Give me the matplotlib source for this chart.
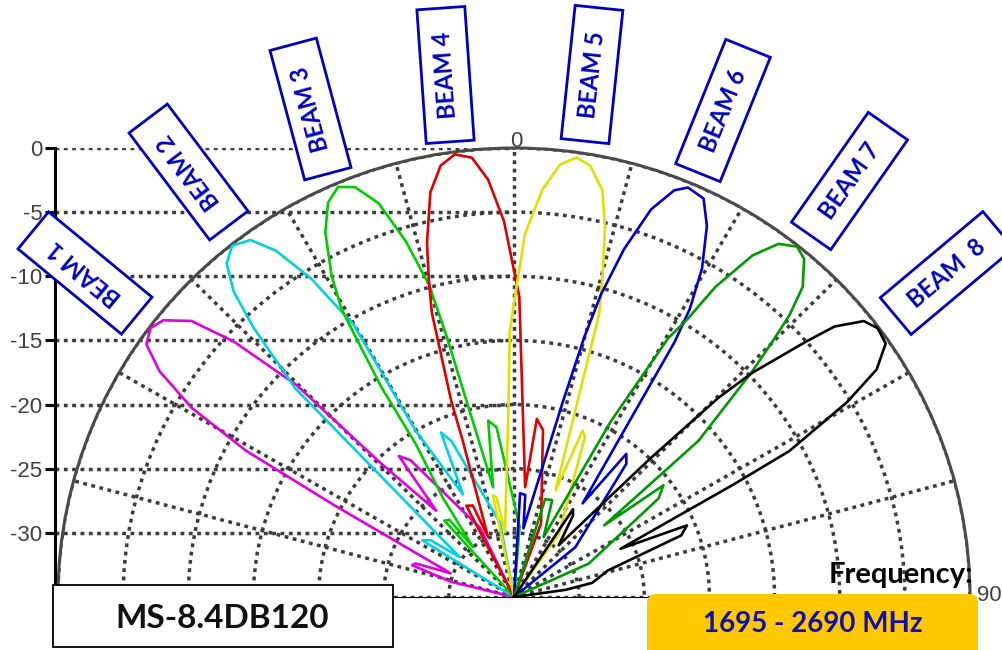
import numpy as np
import matplotlib
matplotlib.use("Agg")
import matplotlib.pyplot as plt
from matplotlib.patches import Rectangle, FancyBboxPatch

plt.rcParams['axes.unicode_minus'] = False

# ---------------- data (angle in degrees, level in dB) ----------------
beam_names = ['BEAM 1', 'BEAM 2', 'BEAM 3', 'BEAM 4', 'BEAM 5', 'BEAM 6', 'BEAM 7', 'BEAM  8']
beam_colors = ['#e000e0', '#00d2e0', '#00cc00', '#e00000', '#e0e000', '#0000cc', '#009900', '#000000']

beam1_deg = [-80, -76.2, -72.4, -70.9, -69.2, -62.6, -61.0, -59.2, -57.1, -55.1, -53.1, -51.3, -49.0,
             -47.2, -45.3, -44.4, -41.6, -38.8, -36.7, -25.8, -22]
beam1_db = [-35, -30.0, -26.8, -27.0, -29.8, -19.5, -11.5, -6.2, -2.6, -0.6, -0.1, -0.5, -2.2,
            -5.7, -11.5, -20.5, -26.0, -20.9, -21.7, -29.0, -35]

beam2_deg = [-61, -57.9, -55.3, -53.3, -45.9, -43.6, -42.1, -40.3, -38.3, -36.0, -34.1, -32.1,
             -30.1, -30.2, -26.1, -23.6, -21.6, -10.5, -7]
beam2_db = [-35, -26.7, -27.2, -29.8, -11.6, -6.0, -2.9, -0.9, -0.1, -0.6, -2.4, -5.7,
            -10.5, -20.0, -26.1, -21.0, -21.9, -29.1, -35]

beam3_deg = [-45, -41.9, -39.5, -39.0, -35.2, -32.3, -31.9, -31.0, -30.5, -29.2, -27.0, -24.9,
             -22.9, -20.9, -18.7, -16.7, -15.0, -14.3, -10.6, -8.2, -5.8, 4.5, 8]
beam3_db = [-35, -27.0, -27.2, -30.0, -25.5, -20.9, -15.8, -11.6, -8.9, -6.3, -3.1, -1.1,
            -0.3, -0.8, -2.6, -6.0, -9.8, -13.9, -26.3, -21.1, -21.7, -29.5, -35]

beam4_deg = [-30, -27.2, -23.9, -23.1, -17.9, -17.5, -15.9, -14.8, -13.6, -11.5, -9.5, -7.5,
             -5.4, -3.5, -1.5, 0.2, 1.0, 5.7, 7.2, 9.7, 19.9, 23]
beam4_db = [-35, -27.0, -27.2, -29.9, -22.2, -19.0, -12.0, -9.4, -6.6, -2.8, -0.9, -0.2,
            -0.6, -2.4, -5.7, -10.0, -11.6, -26.4, -21.0, -21.8, -28.9, -35]

beam5_deg = [-14, -11.5, -9.8, -7.8, -1.6, -0.9, 0.5, 1.7, 3.9, 6.0, 8.0, 9.9, 12.1, 13.7,
             15.3, 16.5, 21.0, 22.1, 23.6, 35, 38]
beam5_db = [-35, -26.9, -27.1, -29.9, -20.0, -14.3, -10.7, -6.7, -3.2, -1.1, -0.4, -0.9, -2.6, -5.5,
            -9.3, -12.0, -26.1, -21.0, -21.4, -29.0, -35]

beam6_deg = [0, 3.3, 6.2, 7.7, 13.8, 14.9, 15.8, 17.3, 19.2, 21.2, 22.7, 25.1, 27.1, 29.4,
             31.0, 31.8, 35.8, 37.7, 39.7, 50.5, 53]
beam6_db = [-35, -26.9, -27.0, -29.6, -19.5, -14.1, -10.5, -6.6, -3.0, -1.0, -0.4, -0.7, -2.5, -5.6,
            -8.8, -11.6, -26.0, -20.9, -21.5, -28.9, -35]

beam7_deg = [14, 17.4, 21.2, 25.9, 28.5, 30.4, 31.6, 32.6, 34.5, 36.4, 38.5, 40.2, 42.5, 43.9,
             44.9, 46.1, 49.3, 51.1, 52.8, 55.3, 65.6, 68]
beam7_db = [-35, -27.0, -26.9, -29.8, -19.4, -11.6, -9.5, -6.3, -2.7, -0.8, -0.1, -0.5, -2.2, -4.5,
            -6.9, -9.6, -16.3, -26.1, -20.6, -21.5, -28.7, -35]

beam8_deg = [30, 33.5, 35.5, 40.4, 44.1, 45.3, 46.3, 48.4, 49.4, 51.3, 53.1, 55.3, 57.5, 59.3,
             61.7, 62.5, 65.3, 67.2, 69.5, 74.0, 79.6, 82, 86]
beam8_db = [-35, -26.8, -27.2, -29.7, -19.9, -12.9, -9.7, -5.0, -2.6, -0.6, -0.1, -0.3, -2.0, -5.3,
            -11.0, -16.0, -26.0, -20.6, -21.3, -27.5, -28.9, -31.0, -35]

beams_deg = [beam1_deg, beam2_deg, beam3_deg, beam4_deg, beam5_deg, beam6_deg, beam7_deg, beam8_deg]
beams_db = [beam1_db, beam2_db, beam3_db, beam4_db, beam5_db, beam6_db, beam7_db, beam8_db]

r_ticks = [0, -5, -10, -15, -20, -25, -30]
r_labels = ['0', '-5', '-10', '-15', '-20', '-25', '-30']
theta_ticks = [-90, -75, -60, -45, -30, -15, 0, 15, 30, 45, 60, 75, 90]
r_min, r_max = -35, 0

model_text = 'MS-8.4DB120'
freq_title = 'Frequency:'
freq_text = '1695 - 2690 MHz'

# ---------------- layout ----------------
W, H = 1003, 650
fig = plt.figure(figsize=(W / 100, H / 100), dpi=100)
fig.patch.set_facecolor('white')

cx, cy = 514, 597
Rx, Ry = 456, 449
grid_kw = dict(color='#3c3c3c', linestyle=(0, (1.1, 1.3)), linewidth=2.5)

# Cartesian left scale with horizontal grid lines
axc = fig.add_axes([55 / W, (H - cy) / H, (cx - 55) / W, Ry / H])
axc.set_ylim(r_min, r_max)
axc.set_xlim(0, 1)
axc.set_yticks(r_ticks)
axc.set_yticklabels(r_labels)
axc.set_xticks([])
axc.patch.set_alpha(0)
for s in ['top', 'right', 'bottom']:
    axc.spines[s].set_visible(False)
axc.spines['left'].set_linewidth(2.2)
axc.spines['left'].set_color('black')
axc.tick_params(axis='y', direction='out', length=7, width=2.2, color='black',
                labelcolor='#404040', labelsize=16, pad=2)
for lab in axc.get_yticklabels():
    lab.set_fontfamily('Liberation Sans')
axc.yaxis.grid(True, **grid_kw)
axc.set_zorder(0)

# Polar half plot: the half-disc occupies the middle half (vertically) of this box
axp = fig.add_axes([(cx - Rx) / W, (H - cy - Ry / 2) / H, 2 * Rx / W, 2 * Ry / H],
                   projection='polar')
axp.set_thetamin(-90)
axp.set_thetamax(90)
axp.set_theta_zero_location('N')
axp.set_theta_direction(-1)
axp.set_rlim(r_min, r_max)
axp.set_aspect('auto')
axp.patch.set_alpha(0)
axp.set_zorder(1)
axp.set_thetagrids(theta_ticks, [''] * len(theta_ticks))
axp.set_rgrids(r_ticks, labels=[''] * len(r_ticks))
axp.grid(True, **grid_kw)
axp.spines['polar'].set_color('#4a4a4a')
axp.spines['polar'].set_linewidth(2.2)
for s in ['start', 'end', 'inner']:
    axp.spines[s].set_visible(False)

# angle labels (only 0 and 90 are shown)
axp.annotate('0', xy=(0, r_max), xytext=(2, 1), textcoords='offset points',
             ha='center', va='baseline', fontsize=16, color='#404040',
             fontfamily='Liberation Sans', annotation_clip=False)
axp.annotate('90', xy=(np.pi / 2, r_max), xytext=(5, 1),
             textcoords='offset points', ha='left', va='center', fontsize=16,
             color='#404040', fontfamily='Liberation Sans', annotation_clip=False)

for deg, db, col in zip(beams_deg, beams_db, beam_colors):
    axp.plot(np.deg2rad(deg), db, color=col, linewidth=1.9, solid_joinstyle='round', zorder=3)

# ---------------- overlay for boxes & annotations (pixel coordinates) ----------------
ov = fig.add_axes([0, 0, 1, 1])
ov.set_xlim(0, W)
ov.set_ylim(0, H)
ov.axis('off')
ov.set_zorder(5)

label_blue = '#0000c0'
box_centers = [(85, 273), (188.5, 172), (310.5, 109), (445.5, 75), (592, 74.5),
               (723, 110.5), (849.5, 181), (947, 273)]
box_angles = [140.5, 127, 105, 94, 84, 68, 55, 40]
bw, bh = 134, 48
for name, (bx, by), ang in zip(beam_names, box_centers, box_angles):
    yy = H - by
    ov.add_patch(Rectangle((bx - bw / 2, yy - bh / 2), bw, bh, angle=ang, rotation_point='center',
                           facecolor='white', edgecolor=label_blue, linewidth=2.0, zorder=5))
    ov.text(bx, yy, name, rotation=ang, rotation_mode='anchor', ha='center', va='center',
            color=label_blue, fontsize=17, fontweight='bold', fontfamily='Lato', zorder=6)

# model box
ov.add_patch(Rectangle((53, H - 647), 340, 62, facecolor='white', edgecolor='black',
                       linewidth=1.3, zorder=5))
ov.text(222, H - 619, model_text, ha='center', va='center', fontsize=24, fontweight='bold',
        fontfamily='Lato', color='#111111', zorder=6)

# frequency
ov.text(973, H - 583, freq_title, ha='right', va='baseline', fontsize=21, fontweight='bold',
        fontfamily='Lato', color='black', zorder=6)
ov.add_patch(FancyBboxPatch((647, -30), 331, H - 594 + 30,
                            boxstyle='round,pad=0,rounding_size=9',
                            facecolor='#ffc800', edgecolor='none', zorder=5))
ov.text(813, H - 624, freq_text, ha='center', va='center', fontsize=20, fontweight='bold',
        fontfamily='Lato', color='#1010b0', zorder=6)

fig.savefig('out.png', dpi=100)
